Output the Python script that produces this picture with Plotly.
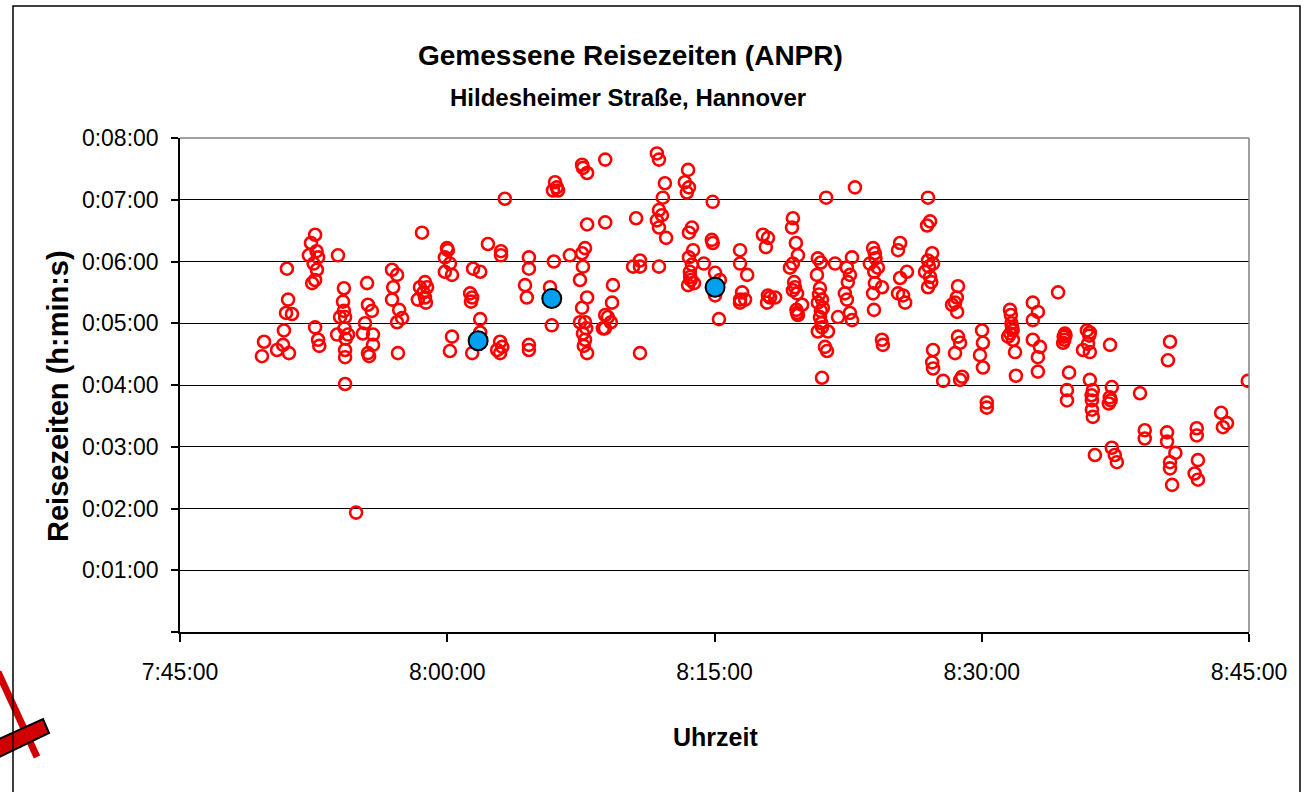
import plotly.graph_objects as go

# ---- data: observed travel times (clock time, travel time m:ss) ----
obs_time = [
    "7:49:36", "7:49:43", "7:50:27", "7:51:07", "7:50:47", "7:50:50", "7:50:57", "7:51:17", "7:51:04", "7:51:00",
    "7:52:35", "7:52:21", "7:52:14", "7:52:45", "7:52:41", "7:52:35", "7:52:25", "7:52:35", "7:52:45", "7:52:49",
    "7:53:52", "7:54:12", "7:54:09", "7:53:59", "7:54:16", "7:53:49", "7:54:26", "7:54:16", "7:54:16", "7:54:16",
    "7:54:53", "7:55:30", "7:55:33", "7:55:46", "7:55:23", "7:55:16", "7:55:50", "7:55:50", "7:55:33", "7:55:37",
    "7:56:54", "7:57:11", "7:56:58", "7:56:54", "7:57:18", "7:57:11", "7:57:28", "7:57:14", "7:58:35", "7:58:28",
    "7:58:45", "7:58:21", "7:58:52", "7:58:45", "7:59:59", "8:00:02", "7:59:52", "8:00:09", "7:59:52", "8:00:16",
    "8:02:17", "8:03:01", "8:03:01", "8:01:27", "8:01:51", "8:03:14", "8:04:35", "8:04:35", "8:04:22", "8:04:28",
    "8:05:59", "8:05:46", "8:05:52", "8:07:34", "8:07:37", "8:07:51", "8:06:03", "8:06:09", "8:05:56", "8:06:13",
    "8:07:51", "8:08:52", "8:08:52", "8:06:53", "8:07:34", "8:07:44", "8:07:37", "8:07:27", "8:07:51", "8:07:34",
    "8:07:27", "8:07:44", "8:07:37", "8:07:44", "8:07:51", "8:08:44", "8:08:52", "8:01:17", "8:01:24", "8:01:20",
    "8:01:51", "8:00:16", "8:00:09", "8:01:24", "8:01:51", "8:02:58", "8:03:05", "8:02:58", "8:02:48", "8:04:35",
    "8:04:35", "8:10:36", "8:11:46", "8:11:53", "8:12:13", "8:12:06", "8:11:53", "8:12:03", "8:11:46", "8:11:53",
    "8:12:17", "8:13:31", "8:13:20", "8:13:34", "8:13:27", "8:14:54", "8:13:44", "8:13:34", "8:14:51", "8:14:54",
    "8:13:48", "8:13:34", "8:13:44", "8:13:37", "8:13:31", "8:13:51", "8:14:24", "8:15:02", "8:15:18", "8:15:02",
    "8:15:15", "8:10:49", "8:10:26", "8:10:49", "8:11:53", "8:09:18", "8:09:15", "8:09:01", "8:09:11", "8:08:51",
    "8:10:49", "8:16:26", "8:16:26", "8:16:50", "8:16:33", "8:16:26", "8:16:43", "8:16:26", "8:17:43", "8:18:00",
    "8:17:53", "8:18:00", "8:17:57", "8:18:07", "8:18:24", "8:19:24", "8:19:21", "8:19:34", "8:19:41", "8:19:24",
    "8:19:14", "8:19:31", "8:19:24", "8:19:38", "8:19:55", "8:19:38", "8:19:41", "8:21:16", "8:22:53", "8:20:48",
    "8:20:58", "8:20:45", "8:20:55", "8:21:02", "8:20:48", "8:21:05", "8:20:55", "8:21:02", "8:20:48", "8:21:22",
    "8:21:12", "8:21:19", "8:21:02", "8:21:46", "8:22:43", "8:22:26", "8:22:36", "8:22:29", "8:22:19", "8:22:26",
    "8:21:56", "8:22:36", "8:22:43", "8:23:54", "8:24:00", "8:23:43", "8:24:10", "8:24:00", "8:24:24", "8:23:54",
    "8:23:57", "8:24:24", "8:24:27", "8:25:25", "8:25:18", "8:25:48", "8:25:25", "8:25:18", "8:25:35", "8:25:42",
    "8:26:59", "8:27:06", "8:26:56", "8:27:13", "8:26:59", "8:27:16", "8:26:49", "8:27:06", "8:26:59", "8:27:16",
    "8:27:13", "8:27:16", "8:27:50", "8:28:20", "8:28:40", "8:28:30", "8:28:37", "8:28:40", "8:28:30", "8:28:47",
    "8:28:54", "8:28:47", "8:30:01", "8:30:04", "8:29:54", "8:30:04", "8:30:17", "8:30:17", "8:31:35", "8:31:42",
    "8:31:29", "8:31:45", "8:31:52", "8:31:55", "8:32:52", "8:33:09", "8:32:52", "8:32:52", "8:33:16", "8:33:09",
    "8:33:09", "8:34:17", "8:34:40", "8:34:34", "8:34:54", "8:34:47", "8:34:47", "8:35:54", "8:36:04", "8:35:41",
    "8:36:04", "8:36:04", "8:36:14", "8:36:11", "8:36:11", "8:36:14", "8:36:21", "8:37:12", "8:40:34", "8:40:27",
    "8:37:18", "8:37:11", "8:37:08", "8:38:53", "8:44:56", "8:43:26", "8:43:32", "8:43:46", "8:39:09", "8:39:09",
    "8:40:24", "8:40:24", "8:42:04", "8:42:04", "8:37:18", "8:37:28", "8:37:35", "8:40:52", "8:40:34", "8:40:34",
    "8:40:41", "8:42:08", "8:41:57", "8:42:08",
    "8:31:38", "8:31:40", "8:31:36", "8:31:44", "8:34:36", "8:34:38", "8:34:42", "8:36:02", "8:35:58", "8:27:02",
    "8:27:10", "8:24:02", "8:23:58", "8:20:52", "8:20:58", "8:21:00", "8:19:28", "8:19:36", "8:13:38", "8:13:40",
    "8:07:40", "8:07:48", "7:54:14", "7:54:18", "7:54:12", "7:52:40", "7:52:30", "7:58:40", "7:58:48", "8:28:36",
    "8:36:10", "8:37:14",
]
obs_travel = [
    "4:28", "4:42", "4:34", "4:31", "4:39", "4:53", "5:10", "5:09", "5:23", "5:53",
    "6:26", "6:18", "6:06", "6:04", "5:52", "5:42", "5:39", "4:56", "4:44", "4:38",
    "6:06", "5:34", "5:21", "5:06", "5:06", "4:49", "4:49", "4:34", "4:27", "4:01",
    "1:56", "5:39", "5:18", "5:12", "5:00", "4:50", "4:49", "4:39", "4:31", "4:28",
    "5:52", "5:47", "5:35", "5:23", "5:13", "5:01", "5:05", "4:31", "6:28", "5:35",
    "5:40", "5:23", "5:35", "5:25", "6:13", "6:11", "6:04", "5:58", "5:50", "5:47",
    "6:17", "6:10", "6:06", "5:53", "5:50", "7:01", "6:04", "5:53", "5:37", "5:25",
    "6:00", "5:35", "4:58", "7:34", "7:31", "7:26", "7:17", "7:12", "7:09", "7:09",
    "6:36", "6:38", "7:39", "6:06", "6:08", "6:13", "5:55", "5:42", "5:25", "5:15",
    "5:01", "5:01", "4:50", "4:44", "4:31", "4:55", "5:08", "5:29", "5:25", "5:21",
    "5:04", "4:47", "4:33", "4:31", "4:51", "4:42", "4:37", "4:31", "4:34", "4:39",
    "4:34", "6:42", "7:45", "7:39", "7:16", "7:02", "6:50", "6:45", "6:40", "6:33",
    "6:23", "7:29", "7:17", "7:12", "7:07", "6:58", "6:33", "6:28", "6:21", "6:18",
    "6:11", "6:04", "5:57", "5:50", "5:37", "5:39", "5:58", "5:49", "5:42", "5:27",
    "5:04", "6:01", "5:55", "5:55", "5:55", "5:37", "5:20", "5:06", "5:01", "4:55",
    "4:31", "6:11", "5:58", "5:47", "5:30", "5:23", "5:23", "5:20", "6:26", "6:23",
    "6:14", "5:27", "5:20", "5:25", "5:25", "6:42", "6:33", "6:18", "6:06", "5:58",
    "5:54", "5:35", "5:32", "5:29", "5:18", "5:10", "5:08", "7:02", "7:12", "6:03",
    "5:59", "5:47", "5:34", "5:23", "5:20", "5:15", "5:06", "4:56", "4:52", "4:52",
    "4:37", "4:33", "4:07", "5:58", "6:04", "5:54", "5:47", "5:40", "5:29", "5:23",
    "5:06", "5:10", "5:03", "6:13", "6:08", "5:58", "5:54", "5:39", "5:35", "5:29",
    "5:13", "4:44", "4:39", "6:18", "6:11", "5:50", "5:44", "5:29", "5:27", "5:20",
    "7:02", "6:39", "6:35", "6:08", "6:01", "5:58", "5:50", "5:45", "5:35", "4:34",
    "4:22", "4:16", "4:04", "5:18", "5:36", "5:20", "5:11", "4:47", "4:31", "4:41",
    "4:08", "4:05", "4:53", "4:41", "4:29", "4:17", "3:43", "3:38", "5:13", "4:56",
    "4:47", "4:44", "4:32", "4:09", "5:20", "5:11", "5:03", "4:44", "4:37", "4:27",
    "4:13", "5:30", "4:50", "4:41", "4:12", "3:55", "3:45", "4:53", "4:51", "4:34",
    "4:32", "4:05", "3:55", "3:45", "3:36", "3:29", "2:52", "4:39", "4:42", "4:24",
    "3:58", "3:48", "3:42", "3:52", "4:04", "3:33", "3:19", "3:23", "3:16", "3:08",
    "3:14", "3:05", "3:18", "3:11", "2:59", "2:52", "2:45", "2:54", "2:45", "2:39",
    "2:23", "2:47", "2:34", "2:28",
    "5:08", "5:00", "4:50", "4:53", "4:47", "4:44", "4:48", "4:48", "4:40", "5:55",
    "5:40", "6:03", "5:50", "5:28", "5:12", "5:00", "5:40", "5:13", "5:45", "5:42",
    "4:38", "4:55", "4:55", "4:45", "5:12", "6:10", "5:58", "5:30", "5:20", "5:25",
    "3:50", "3:45",
]

# ---- data: highlighted mean values ----
mean_time = ["8:01:44", "8:05:52", "8:15:02"]
mean_travel = ["4:43", "5:24", "5:35"]

# ---- axis tick values ----
x_ticks = ["7:45:00", "8:00:00", "8:15:00", "8:30:00", "8:45:00"]
y_ticks = ["0:00:00", "0:01:00", "0:02:00", "0:03:00", "0:04:00", "0:05:00", "0:06:00", "0:07:00", "0:08:00"]


def clock(t):
    h, m, s = t.split(":")
    return f"2000-01-01 {int(h):02d}:{int(m):02d}:{int(s):02d}"


def dur(t):
    parts = t.split(":")
    if len(parts) == 2:
        parts = ["0"] + parts
    return clock(":".join(parts))


FONT = "Liberation Sans, Arial, sans-serif"
W, H = 1305, 792
L, R, T, B = 180, 1249, 138, 632  # plot area box in pixels


def px_x(p):
    return (p - L) / (R - L)


def px_y(p):
    return (B - p) / (B - T)


fig = go.Figure()
fig.add_trace(go.Scatter(
    x=[clock(t) for t in obs_time], y=[dur(t) for t in obs_travel],
    mode="markers",
    marker=dict(symbol="circle-open", size=12, color="#FF0000", line=dict(width=2.6, color="#FF0000")),
    hoverinfo="skip", showlegend=False,
))
fig.add_trace(go.Scatter(
    x=[clock(t) for t in mean_time], y=[dur(t) for t in mean_travel],
    mode="markers",
    marker=dict(symbol="circle", size=19, color="#00A0F0", line=dict(width=2, color="#000000")),
    hoverinfo="skip", showlegend=False,
))

shapes = [
    # red decoration bottom-left
    dict(type="line", xref="paper", yref="paper", x0=px_x(-2), y0=px_y(672), x1=px_x(37), y1=px_y(757),
         line=dict(color="#D00000", width=7)),
    dict(type="path", xref="paper", yref="paper",
         path=f"M {px_x(-5)},{px_y(741)} L {px_x(43)},{px_y(719)} L {px_x(49)},{px_y(733)} L {px_x(-5)},{px_y(759)} Z",
         fillcolor="#D00000", line=dict(color="#000000", width=2)),
    # gray plot-area outline top & right
    dict(type="line", xref="paper", yref="paper", x0=0, y0=1, x1=1, y1=1, line=dict(color="#808080", width=1.5)),
    dict(type="line", xref="paper", yref="paper", x0=1, y0=0, x1=1, y1=1, line=dict(color="#808080", width=1.5)),
    # chart border
    dict(type="rect", xref="paper", yref="paper", x0=px_x(13), y0=px_y(800), x1=px_x(1300), y1=px_y(6),
         line=dict(color="#000000", width=1.5), fillcolor="rgba(0,0,0,0)"),
]

ann_common = dict(xref="paper", yref="paper", showarrow=False, xanchor="center", yanchor="middle")
annotations = [
    dict(text="<b>Gemessene Reisezeiten (ANPR)</b>", x=px_x(630), y=px_y(55),
         font=dict(family=FONT, size=28, color="#000"), **ann_common),
    dict(text="<b>Hildesheimer Straße, Hannover</b>", x=px_x(628), y=px_y(98),
         font=dict(family=FONT, size=24, color="#000"), **ann_common),
    dict(text="<b>Reisezeiten (h:min:s)</b>", x=px_x(58), y=px_y(396), textangle=-90,
         font=dict(family=FONT, size=29, color="#000"), **ann_common),
    dict(text="<b>Uhrzeit</b>", x=px_x(715), y=px_y(737),
         font=dict(family=FONT, size=25, color="#000"), **ann_common),
]

fig.update_layout(
    width=W, height=H,
    margin=dict(l=L, r=W - R, t=T, b=H - B, pad=0),
    paper_bgcolor="white", plot_bgcolor="white",
    font=dict(family=FONT, size=23, color="#000"),
    shapes=shapes, annotations=annotations, showlegend=False,
)
fig.update_xaxes(
    type="date", range=[clock(x_ticks[0]), clock(x_ticks[-1])],
    tickvals=[clock(t) for t in x_ticks], ticktext=x_ticks,
    showgrid=False, zeroline=False,
    showline=True, linecolor="#000", linewidth=1.5,
    ticks="outside", ticklen=8, tickcolor="#000", tickwidth=1.5,
    ticklabelstandoff=11, tickfont=dict(family=FONT, size=23),
)
fig.update_yaxes(
    type="date", range=[dur(y_ticks[0]), dur(y_ticks[-1])],
    tickvals=[dur(t) for t in y_ticks], ticktext=[""] + y_ticks[1:],
    showgrid=True, gridcolor="#000", gridwidth=1, zeroline=False,
    showline=True, linecolor="#000", linewidth=1.5,
    ticks="outside", ticklen=7, tickcolor="#000", tickwidth=1.5,
    ticklabelstandoff=8, tickfont=dict(family=FONT, size=23),
)

fig.write_html(
    "out.html",
    config={"displayModeBar": False},
    post_script="document.body.style.margin='0';document.body.style.overflow='hidden';",
)
